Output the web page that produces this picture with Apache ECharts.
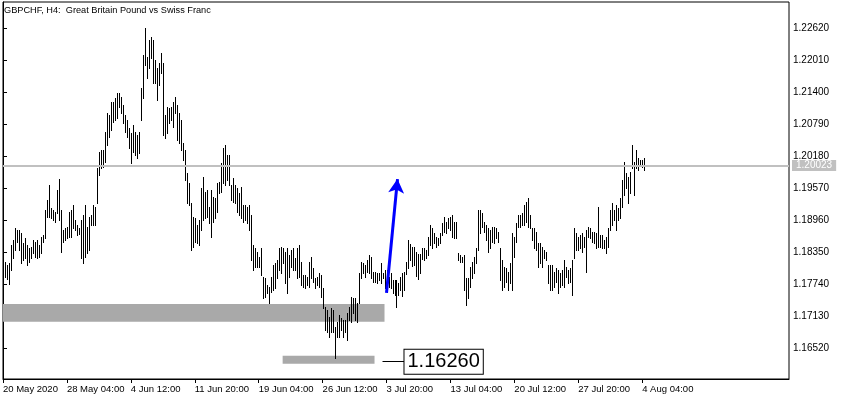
<!DOCTYPE html>
<html><head><meta charset="utf-8">
<script src="https://cdn.jsdelivr.net/npm/echarts@6/dist/echarts.min.js"></script>
<style>html,body{margin:0;padding:0;background:#fff}#c{width:842px;height:400px}</style>
</head><body><div id="c"></div>
<script>
const tickLabels = ['20 May 2020','28 May 04:00','4 Jun 12:00','11 Jun 20:00','19 Jun 04:00','26 Jun 12:00','3 Jul 20:00','13 Jul 04:00','20 Jul 12:00','27 Jul 20:00','4 Aug 04:00'];
const tickBars = [0,32,64,96,128,160,192,224,256,288,320];
const yTicks = [1.16520,1.17130,1.17740,1.18350,1.18960,1.19570,1.20180,1.20790,1.21400,1.22010,1.22620];

const high = [
1.1816,1.1810,1.1814,1.1848,1.1858,1.1881,1.1877,1.1877,1.1871,1.1852,
1.1862,1.1848,1.1843,1.1845,1.1858,1.1854,1.1858,1.1848,1.1864,1.1867,
1.1915,1.1934,1.1963,1.1919,1.1915,1.1911,1.1953,1.1974,1.1915,1.1877,
1.1881,1.1883,1.1911,1.1915,1.1925,1.1896,1.1887,1.1881,1.1896,1.1906,
1.1925,1.1883,1.1902,1.1906,1.1925,1.1921,1.1995,1.2026,1.2029,1.2029,
1.2064,1.2100,1.2096,1.2121,1.2121,1.2129,1.2138,1.2138,1.2131,1.2115,
1.2096,1.2087,1.2071,1.2062,1.2077,1.2064,1.2058,1.2064,1.2148,1.2211,
1.2262,1.2207,1.2239,1.2245,1.2239,1.2201,1.2186,1.2195,1.2214,1.2195,
1.2096,1.2111,1.2110,1.2111,1.2121,1.2131,1.2115,1.2100,1.2087,1.2043,
1.2029,1.1986,1.1967,1.1928,1.1902,1.1900,1.1887,1.1896,1.1957,1.1978,
1.1949,1.1953,1.1921,1.1953,1.1940,1.1938,1.1967,1.1969,1.2005,1.2033,
1.2039,1.2020,1.2020,1.1963,1.1976,1.1963,1.1957,1.1948,1.1959,1.1925,
1.1925,1.1921,1.1925,1.1906,1.1848,1.1843,1.1835,1.1825,1.1843,1.1787,
1.1786,1.1772,1.1768,1.1787,1.1810,1.1814,1.1820,1.1843,1.1845,1.1843,
1.1835,1.1843,1.1829,1.1839,1.1843,1.1824,1.1843,1.1848,1.1816,1.1791,
1.1791,1.1787,1.1816,1.1825,1.1804,1.1785,1.1787,1.1795,1.1791,1.1766,
1.1730,1.1724,1.1711,1.1728,1.1724,1.1692,1.1701,1.1715,1.1709,1.1705,
1.1705,1.1719,1.1730,1.1749,1.1747,1.1747,1.1738,1.1795,1.1816,1.1814,
1.1810,1.1820,1.1829,1.1825,1.1797,1.1797,1.1795,1.1795,1.1814,1.1795,
1.1801,1.1801,1.1787,1.1795,1.1782,1.1782,1.1782,1.1776,1.1787,1.1795,
1.1797,1.1816,1.1858,1.1850,1.1845,1.1845,1.1835,1.1831,1.1831,1.1843,
1.1843,1.1839,1.1864,1.1887,1.1881,1.1871,1.1864,1.1862,1.1871,1.1890,
1.1902,1.1892,1.1900,1.1902,1.1906,1.1892,1.1892,1.1833,1.1829,1.1825,
1.1829,1.1785,1.1785,1.1806,1.1816,1.1825,1.1843,1.1915,1.1915,1.1909,
1.1892,1.1887,1.1881,1.1877,1.1883,1.1883,1.1881,1.1873,1.1843,1.1820,
1.1806,1.1804,1.1797,1.1814,1.1871,1.1864,1.1890,1.1906,1.1906,1.1909,
1.1925,1.1930,1.1938,1.1906,1.1881,1.1881,1.1873,1.1852,1.1852,1.1845,
1.1839,1.1835,1.1810,1.1810,1.1810,1.1797,1.1804,1.1801,1.1795,1.1801,
1.1820,1.1806,1.1801,1.1804,1.1820,1.1881,1.1871,1.1864,1.1867,1.1871,
1.1864,1.1877,1.1883,1.1881,1.1873,1.1873,1.1871,1.1921,1.1867,1.1867,
1.1858,1.1864,1.1881,1.1915,1.1928,1.1915,1.1925,1.1919,1.1938,1.1972,
1.2007,1.1986,1.1978,1.1988,1.2039,1.2007,1.2029,1.2014,1.2010,1.2010,
1.2014];

const low = [
1.1787,1.1784,1.1774,1.1801,1.1824,1.1839,1.1854,1.1839,1.1814,1.1820,
1.1824,1.1810,1.1816,1.1824,1.1833,1.1825,1.1824,1.1825,1.1833,1.1854,
1.1862,1.1902,1.1902,1.1900,1.1896,1.1892,1.1909,1.1896,1.1835,1.1854,
1.1858,1.1862,1.1864,1.1864,1.1881,1.1877,1.1867,1.1869,1.1824,1.1814,
1.1825,1.1833,1.1839,1.1887,1.1887,1.1887,1.1928,1.1982,1.1995,1.1997,
1.2007,1.2039,1.2054,1.2068,1.2083,1.2087,1.2090,1.2111,1.2100,1.2081,
1.2064,1.2054,1.2033,1.2005,1.2026,1.2020,1.2014,1.2024,1.2087,1.2129,
1.2192,1.2167,1.2186,1.2205,1.2157,1.2157,1.2125,1.2153,1.2176,1.2058,
1.2052,1.2062,1.2081,1.2087,1.2073,1.2100,1.2049,1.2043,1.2029,1.2010,
1.1972,1.1928,1.1925,1.1839,1.1845,1.1854,1.1852,1.1848,1.1877,1.1896,
1.1900,1.1902,1.1890,1.1864,1.1892,1.1900,1.1911,1.1948,1.1949,1.1967,
1.1963,1.1972,1.1963,1.1934,1.1930,1.1928,1.1911,1.1906,1.1900,1.1892,
1.1896,1.1890,1.1877,1.1820,1.1801,1.1806,1.1806,1.1806,1.1791,1.1747,
1.1749,1.1757,1.1738,1.1759,1.1763,1.1766,1.1785,1.1801,1.1795,1.1814,
1.1776,1.1757,1.1787,1.1806,1.1801,1.1801,1.1785,1.1787,1.1772,1.1768,
1.1766,1.1772,1.1768,1.1785,1.1778,1.1766,1.1772,1.1768,1.1749,1.1728,
1.1686,1.1682,1.1673,1.1682,1.1682,1.1632,1.1673,1.1673,1.1686,1.1673,
1.1682,1.1667,1.1705,1.1701,1.1719,1.1705,1.1701,1.1738,1.1785,1.1795,
1.1787,1.1797,1.1795,1.1785,1.1778,1.1778,1.1776,1.1782,1.1776,1.1785,
1.1766,1.1759,1.1768,1.1766,1.1757,1.1753,1.1730,1.1753,1.1763,1.1751,
1.1763,1.1793,1.1804,1.1820,1.1808,1.1810,1.1789,1.1784,1.1795,1.1822,
1.1820,1.1824,1.1829,1.1848,1.1843,1.1852,1.1845,1.1848,1.1852,1.1867,
1.1873,1.1871,1.1881,1.1877,1.1864,1.1862,1.1862,1.1820,1.1816,1.1816,
1.1763,1.1734,1.1747,1.1768,1.1785,1.1795,1.1814,1.1839,1.1871,1.1883,
1.1873,1.1858,1.1835,1.1843,1.1854,1.1852,1.1862,1.1854,1.1782,1.1763,
1.1768,1.1778,1.1763,1.1776,1.1763,1.1825,1.1854,1.1883,1.1883,1.1887,
1.1887,1.1892,1.1883,1.1881,1.1858,1.1843,1.1839,1.1806,1.1814,1.1806,
1.1824,1.1820,1.1776,1.1763,1.1763,1.1768,1.1778,1.1757,1.1768,1.1772,
1.1768,1.1787,1.1776,1.1778,1.1753,1.1824,1.1839,1.1839,1.1843,1.1835,
1.1845,1.1797,1.1864,1.1862,1.1854,1.1852,1.1843,1.1845,1.1845,1.1843,
1.1843,1.1833,1.1845,1.1877,1.1887,1.1896,1.1877,1.1896,1.1900,1.1921,
1.1944,1.1957,1.1928,1.1948,1.1995,1.1944,1.1995,1.1991,1.2001,1.1997,
1.1991];

const bidPrice = 1.20023;
const levelPrice = 1.16260;
const upperZone = {from: 0, to: 191, top: 1.1736, bottom: 1.1702};
const lowerZone = {from: 140, to: 186, top: 1.1637, bottom: 1.1622};
const arrowFrom = [192, 1.1757];
const arrowTo = [197.5, 1.1974];
const levelLine = [190, 201];

const FONT = 'Liberation Sans, Arial, sans-serif';
const bars = high.map((h, i) => [i + 1, h, low[i]]);

const chart = echarts.init(document.getElementById('c'), null, {renderer: 'canvas'});
chart.setOption({
  animation: false,
  backgroundColor: '#fff',
  title: {text: 'GBPCHF, H4:  Great Britain Pound vs Swiss Franc', left: 4, top: 6, padding: 0,
    textStyle: {fontSize: 9.2, fontWeight: 'normal', color: '#000', fontFamily: FONT}},
  grid: {left: 2, right: 53, top: 2, bottom: 21, show: true, borderColor: '#000', borderWidth: 1},
  xAxis: {type: 'value', min: 0, max: 393.5,
    axisLine: {show: true, lineStyle: {color: '#000', width: 1}},
    axisTick: {show: true, length: 4, customValues: tickBars, lineStyle: {color: '#000'}},
    axisLabel: {color: '#000', fontSize: 9.5, fontFamily: FONT, align: 'left', margin: 5,
      customValues: tickBars,
      formatter: v => tickLabels[tickBars.indexOf(Math.round(v))] || ''},
    splitLine: {show: false}},
  yAxis: {type: 'value', position: 'right', min: 1.15929, max: 1.23116, scale: true,
    axisLine: {show: true, lineStyle: {color: '#000', width: 1}},
    axisTick: {show: true, length: 4, customValues: yTicks, lineStyle: {color: '#000'}},
    axisLabel: {color: '#000', fontSize: 10, fontFamily: FONT, margin: 4, customValues: yTicks,
      formatter: v => v.toFixed(5)},
    splitLine: {show: false}},
  series: [
    {type: 'line', data: [], z: 1, silent: true,
      markArea: {silent: true, itemStyle: {color: '#a9a9a9', opacity: 1}, label: {show: false},
        data: [
          [{coord: [upperZone.from, upperZone.top]}, {coord: [upperZone.to, upperZone.bottom]}],
          [{coord: [lowerZone.from, lowerZone.top]}, {coord: [lowerZone.to, lowerZone.bottom]}]
        ]}},
    {type: 'line', data: [], z: 2, silent: true,
      markLine: {silent: true, symbol: ['none', 'none'], animation: false,
        lineStyle: {color: '#c0c0c0', width: 2, type: 'solid'},
        label: {show: true, position: 'end', distance: 3, formatter: bidPrice.toFixed(5),
          color: '#fff', backgroundColor: '#c0c0c0', fontSize: 10, fontFamily: FONT,
          padding: [1, 4, 0, 4], lineHeight: 10},
        data: [{yAxis: bidPrice}]}},
    {type: 'custom', z: 3, clip: true, data: bars, encode: {x: 0, y: [1, 2]},
      renderItem: function (params, api) {
        const x = api.value(0);
        const p1 = api.coord([x, api.value(1)]);
        const p2 = api.coord([x, api.value(2)]);
        const y1 = Math.round(p1[1]), y2 = Math.round(p2[1]);
        return {type: 'rect', shape: {x: Math.round(p1[0]), y: y1, width: 1, height: Math.max(1, y2 - y1 + 1)},
          style: {fill: '#000'}};
      }},
    {type: 'line', data: [], z: 5, silent: true,
      markLine: {silent: true, animation: false,
        data: [
          [{coord: arrowFrom, symbol: 'none', lineStyle: {color: '#0000ff', width: 3, type: 'solid'}, label: {show: false}},
           {coord: arrowTo, symbol: 'arrow', symbolSize: [12, 14]}],
          [{coord: [levelLine[0], levelPrice], symbol: 'none', lineStyle: {color: '#000', width: 1, type: 'solid'},
            label: {show: true, position: 'end', distance: 0, formatter: levelPrice.toFixed(5), color: '#000',
              backgroundColor: '#fff', borderColor: '#000', borderWidth: 1, fontSize: 20, fontFamily: FONT,
              padding: [2, 3, 1, 3], lineHeight: 21}},
           {coord: [levelLine[1], levelPrice], symbol: 'none'}]
        ]}}
  ]
});
</script></body></html>
